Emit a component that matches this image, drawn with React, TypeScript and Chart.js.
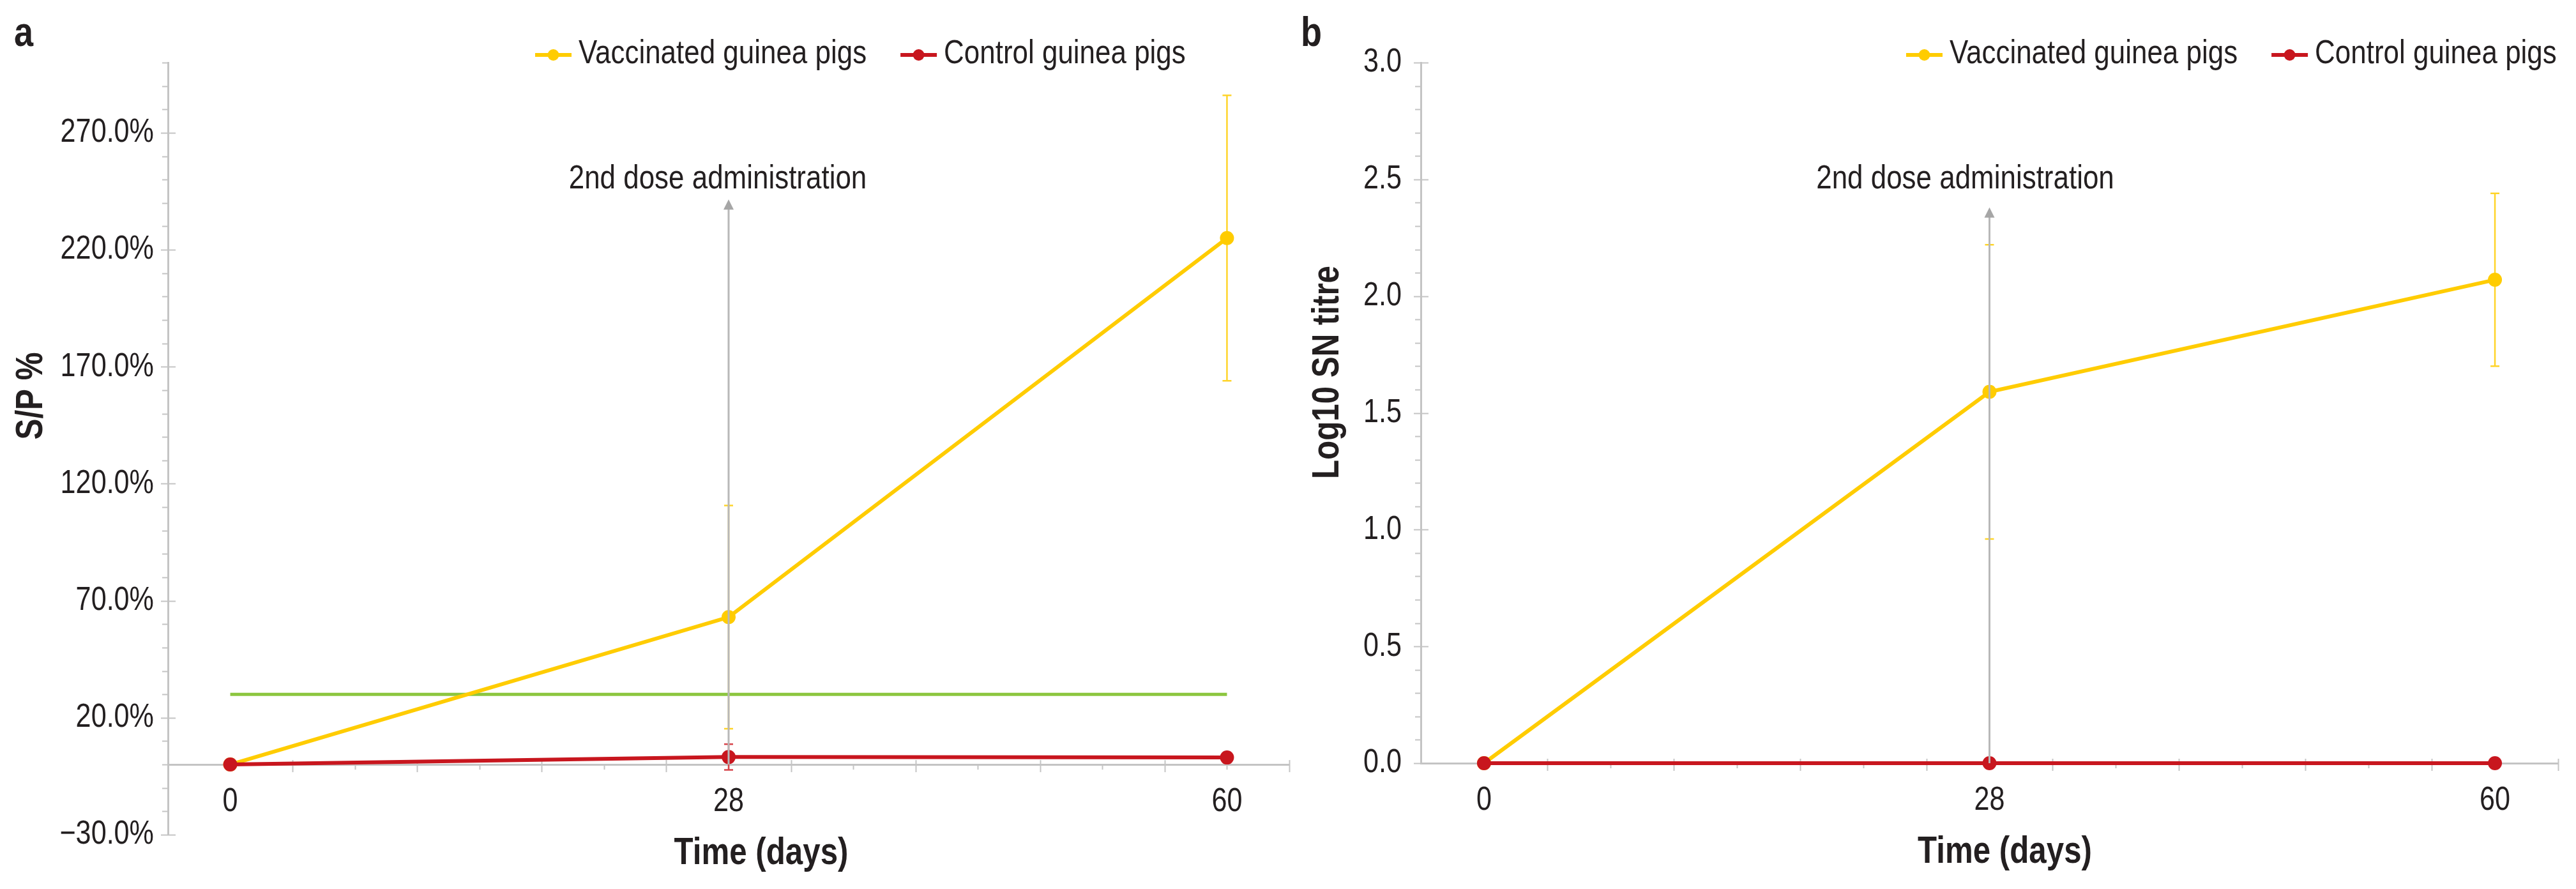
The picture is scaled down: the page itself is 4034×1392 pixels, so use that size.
import { useEffect, useRef } from "react"
import { Chart, registerables } from "chart.js"

Chart.register(...registerables)

// shared categories
const days = ["0", "28", "60"]
const seriesNames = ["Vaccinated guinea pigs", "Control guinea pigs"]
const doseLabel = "2nd dose administration"
const doseDayIndex = 1

// panel a: S/P %
const spTicks = [-30, 20, 70, 120, 170, 220, 270]
const spVaccinated = [0, 63, 225]
const spVaccinatedErr = [0, 47.7, 61]
const spControl = [0, 3.2, 3.0]
const spControlErr = [0, 5.5, 0]
const spCutoff = 30
const spArrowTop = 241.5

// panel b: Log10 SN titre
const snTicks = [0, 0.5, 1, 1.5, 2, 2.5, 3]
const snVaccinated = [0, 1.59, 2.07]
const snVaccinatedErr = [0, 0.63, 0.37]
const snControl = [0, 0, 0]
const snControlErr = [0, 0, 0]
const snArrowTop = 2.38

const HEIGHT = 1392
const YELLOW = "#ffcc00"
const YELLOW_BAR = "#ffd429"
const RED = "#c8161e"
const RED_BAR = "#d6434a"
const GREEN = "#8cc63f"
const AXIS = "#c4c4c4"
const ARROW = "#b8b8b8"
const ARROW_HEAD = "#a6a6a6"
const TEXT = "#231f20"
const FONT = "'Liberation Sans', Arial, sans-serif"
// the figure uses a condensed Helvetica, so text is squeezed horizontally
const NARROW = 0.845
const NARROW_TICKS = 0.83
const X_PAD = 0.125
const X_MINOR = 0.125

interface PanelConfig {
  letter: string
  letterX: number
  width: number
  yTitle: string
  yTitleY: number
  yMin: number
  yMax: number
  yTicks: number[]
  yMinorStep: number
  formatY: (v: number) => string
  vaccinated: number[]
  vaccinatedErr: number[]
  control: number[]
  controlErr: number[]
  cutoff?: number
  arrowTop: number
  axisBoxWidth: number
  labelPad: number
  padRight: number
  padBottom: number
  legendX: number
  doseShift: number
  xTitleShift: number
}

const panelA: PanelConfig = {
  letter: "a",
  letterX: 22,
  width: 2030,
  yTitle: "S/P %",
  yTitleY: 620,
  yMin: -30,
  yMax: 300,
  yTicks: spTicks,
  yMinorStep: 10,
  formatY: (v) => (v < 0 ? "\u2212" : "") + Math.abs(v).toFixed(1) + "%",
  vaccinated: spVaccinated,
  vaccinatedErr: spVaccinatedErr,
  control: spControl,
  controlErr: spControlErr,
  cutoff: spCutoff,
  arrowTop: spArrowTop,
  axisBoxWidth: 263,
  labelPad: 22,
  padRight: 7,
  padBottom: 85,
  legendX: 838,
  doseShift: -17,
  xTitleShift: 51,
}

const panelB: PanelConfig = {
  letter: "b",
  letterX: 7,
  width: 2004,
  yTitle: "Log10 SN titre",
  yTitleY: 583,
  yMin: 0,
  yMax: 3,
  yTicks: snTicks,
  yMinorStep: 0.1,
  formatY: (v) => v.toFixed(1),
  vaccinated: snVaccinated,
  vaccinatedErr: snVaccinatedErr,
  control: snControl,
  controlErr: snControlErr,
  arrowTop: snArrowTop,
  axisBoxWidth: 195,
  labelPad: 30,
  padRight: 28,
  padBottom: 197,
  legendX: 955,
  doseShift: -38,
  xTitleShift: 24,
}

const toPoints = (values: number[]) => values.map((y, i) => ({ x: i, y }))

function line(ctx: CanvasRenderingContext2D, x1: number, y1: number, x2: number, y2: number) {
  ctx.beginPath()
  ctx.moveTo(x1, y1)
  ctx.lineTo(x2, y2)
  ctx.stroke()
}

function text(
  ctx: CanvasRenderingContext2D,
  str: string,
  x: number,
  y: number,
  size: number,
  opts: {
    bold?: boolean
    align?: CanvasTextAlign
    baseline?: CanvasTextBaseline
    rotate?: number
    squeeze?: number
  } = {}
) {
  const squeeze = opts.squeeze ?? NARROW
  ctx.save()
  ctx.translate(x, y)
  if (opts.rotate) ctx.rotate(opts.rotate)
  ctx.scale(squeeze, 1)
  ctx.font = `${opts.bold ? "bold " : ""}${size}px ${FONT}`
  ctx.textAlign = opts.align ?? "left"
  ctx.textBaseline = opts.baseline ?? "alphabetic"
  ctx.fillStyle = TEXT
  ctx.fillText(str, 0, 0)
  const w = ctx.measureText(str).width * squeeze
  ctx.restore()
  return w
}

function makeDecor(cfg: PanelConfig) {
  return {
    id: "panelDecor",
    beforeDatasetsDraw(chart: Chart) {
      const { ctx } = chart
      const xs = chart.scales.x
      const ys = chart.scales.y
      const axisX = ys.right
      const axisY = ys.getPixelForValue(0)
      ctx.save()
      ctx.strokeStyle = AXIS
      ctx.lineWidth = 2

      // y minor and major tick marks
      const ySteps = Math.round((ys.max - ys.min) / cfg.yMinorStep)
      for (let k = 0; k <= ySteps; k++) {
        const v = ys.min + k * cfg.yMinorStep
        const py = Math.round(ys.getPixelForValue(v)) + 0.5
        const major = cfg.yTicks.some((t) => Math.abs(t - v) < 1e-6)
        line(ctx, axisX - (major ? 11 : 9), py, axisX + (major ? 12 : 0), py)
      }

      // x tick marks, long ones every other step
      const xSteps = Math.round((xs.max - xs.min) / X_MINOR)
      for (let k = 1; k <= xSteps; k++) {
        const px = Math.round(xs.getPixelForValue(xs.min + k * X_MINOR)) + 0.5
        if (k % 2 === 0) line(ctx, px, axisY - 7, px, axisY + 12)
        else line(ctx, px, axisY, px, axisY + 8)
      }

      // error bars
      const bars = [
        { values: cfg.vaccinated, errs: cfg.vaccinatedErr, color: YELLOW_BAR },
        { values: cfg.control, errs: cfg.controlErr, color: RED_BAR },
      ]
      ctx.lineWidth = 2.5
      bars.forEach(({ values, errs, color }) => {
        ctx.strokeStyle = color
        values.forEach((v, i) => {
          if (!errs[i]) return
          const px = xs.getPixelForValue(i)
          const top = ys.getPixelForValue(v + errs[i])
          const bottom = ys.getPixelForValue(v - errs[i])
          line(ctx, px, top, px, bottom)
          line(ctx, px - 7, top, px + 7, top)
          line(ctx, px - 7, bottom, px + 7, bottom)
        })
      })
      ctx.restore()
    },
    afterDatasetsDraw(chart: Chart) {
      const { ctx, chartArea } = chart
      const xs = chart.scales.x
      const ys = chart.scales.y
      const px = xs.getPixelForValue(doseDayIndex)
      const tip = ys.getPixelForValue(cfg.arrowTop)
      ctx.save()
      ctx.strokeStyle = ARROW
      ctx.lineWidth = 3
      line(ctx, px, ys.getPixelForValue(0), px, tip + 14)
      ctx.fillStyle = ARROW_HEAD
      ctx.beginPath()
      ctx.moveTo(px, tip)
      ctx.lineTo(px - 8, tip + 16)
      ctx.lineTo(px + 8, tip + 16)
      ctx.closePath()
      ctx.fill()
      ctx.restore()
      text(ctx, doseLabel, px + cfg.doseShift, chartArea.top + 197, 52, { align: "center" })
    },
    afterDraw(chart: Chart) {
      const { ctx, chartArea } = chart
      const xs = chart.scales.x
      const ys = chart.scales.y
      const axisX = ys.right
      const axisY = ys.getPixelForValue(0)

      // tick labels from the scales' own ticks
      ys.ticks.forEach((t) => {
        text(ctx, cfg.formatY(t.value), axisX - cfg.labelPad, ys.getPixelForValue(t.value), 52, {
          align: "right",
          baseline: "middle",
          squeeze: NARROW_TICKS,
        })
      })
      xs.ticks.forEach((t, i) => {
        text(ctx, days[i] ?? "", xs.getPixelForValue(t.value), axisY + 73, 52, {
          align: "center",
          squeeze: NARROW_TICKS,
        })
      })

      // panel letter
      text(ctx, cfg.letter, cfg.letterX, 72, 64, { bold: true })

      // legend
      const items = [
        { name: seriesNames[0], color: YELLOW },
        { name: seriesNames[1], color: RED },
      ]
      let lx = cfg.legendX
      items.forEach(({ name, color }) => {
        ctx.save()
        ctx.strokeStyle = color
        ctx.fillStyle = color
        ctx.lineWidth = 6
        line(ctx, lx, 86, lx + 57, 86)
        ctx.beginPath()
        ctx.arc(lx + 28.5, 86, 9, 0, Math.PI * 2)
        ctx.fill()
        ctx.restore()
        const w = text(ctx, name, lx + 68, 99, 52)
        lx += 68 + w + 53
      })

      // axis titles
      text(ctx, "Time (days)", (chartArea.left + chartArea.right) / 2 + cfg.xTitleShift, axisY + 156, 59, {
        bold: true,
        align: "center",
        squeeze: 0.835,
      })
      text(ctx, cfg.yTitle, ys.left + 66, cfg.yTitleY, 59, {
        bold: true,
        align: "center",
        rotate: -Math.PI / 2,
        squeeze: 0.835,
      })
    },
  }
}

function Panel({ cfg }: { cfg: PanelConfig }) {
  const chartRef = useRef<HTMLCanvasElement>(null)
  const chartInstance = useRef<Chart | null>(null)

  useEffect(() => {
    if (!chartRef.current) return
    if (chartInstance.current) chartInstance.current.destroy()
    const ctx = chartRef.current.getContext("2d")
    if (!ctx) return

    const datasets: any[] = [
      {
        label: seriesNames[1],
        data: toPoints(cfg.control),
        borderColor: RED,
        backgroundColor: RED,
        borderWidth: 6,
        pointRadius: 11,
        pointHoverRadius: 11,
        pointBorderWidth: 0,
        clip: false,
        order: 0,
      },
      {
        label: seriesNames[0],
        data: toPoints(cfg.vaccinated),
        borderColor: YELLOW,
        backgroundColor: YELLOW,
        borderWidth: 6,
        pointRadius: 11,
        pointHoverRadius: 11,
        pointBorderWidth: 0,
        clip: false,
        order: 1,
      },
    ]
    if (cfg.cutoff !== undefined) {
      datasets.push({
        label: "Cut-off",
        data: [
          { x: 0, y: cfg.cutoff },
          { x: days.length - 1, y: cfg.cutoff },
        ],
        borderColor: GREEN,
        borderWidth: 5,
        pointRadius: 0,
        order: 2,
      })
    }

    chartInstance.current = new Chart(ctx, {
      type: "line",
      data: { datasets },
      options: {
        responsive: true,
        maintainAspectRatio: false,
        animation: false,
        events: [],
        layout: { padding: { top: 98, right: cfg.padRight, bottom: cfg.padBottom, left: 0 } },
        plugins: {
          legend: { display: false },
          tooltip: { enabled: false },
        },
        scales: {
          x: {
            type: "linear",
            position: { y: 0 },
            min: -X_PAD,
            max: days.length - 1 + X_PAD,
            afterBuildTicks: (axis: any) => {
              axis.ticks = days.map((_, i) => ({ value: i }))
            },
            grid: { display: false, drawTicks: false },
            border: { display: true, color: AXIS, width: 3 },
            ticks: { display: false },
          },
          y: {
            type: "linear",
            min: cfg.yMin,
            max: cfg.yMax,
            afterBuildTicks: (axis: any) => {
              axis.ticks = cfg.yTicks.map((value) => ({ value }))
            },
            afterFit: (axis: any) => {
              axis.width = cfg.axisBoxWidth
            },
            grid: { display: false, drawTicks: false },
            border: { display: true, color: AXIS, width: 3 },
            ticks: { display: false },
          },
        },
      } as any,
      plugins: [makeDecor(cfg)],
    })

    return () => {
      if (chartInstance.current) {
        chartInstance.current.destroy()
        chartInstance.current = null
      }
    }
  }, [cfg])

  return (
    <div style={{ position: "relative", width: cfg.width, height: HEIGHT }}>
      <canvas ref={chartRef} />
    </div>
  )
}

export default function App() {
  return (
    <div style={{ position: "absolute", left: 0, top: 0, width: 4034, height: HEIGHT, display: "flex", background: "#ffffff" }}>
      <Panel cfg={panelA} />
      <Panel cfg={panelB} />
    </div>
  )
}
